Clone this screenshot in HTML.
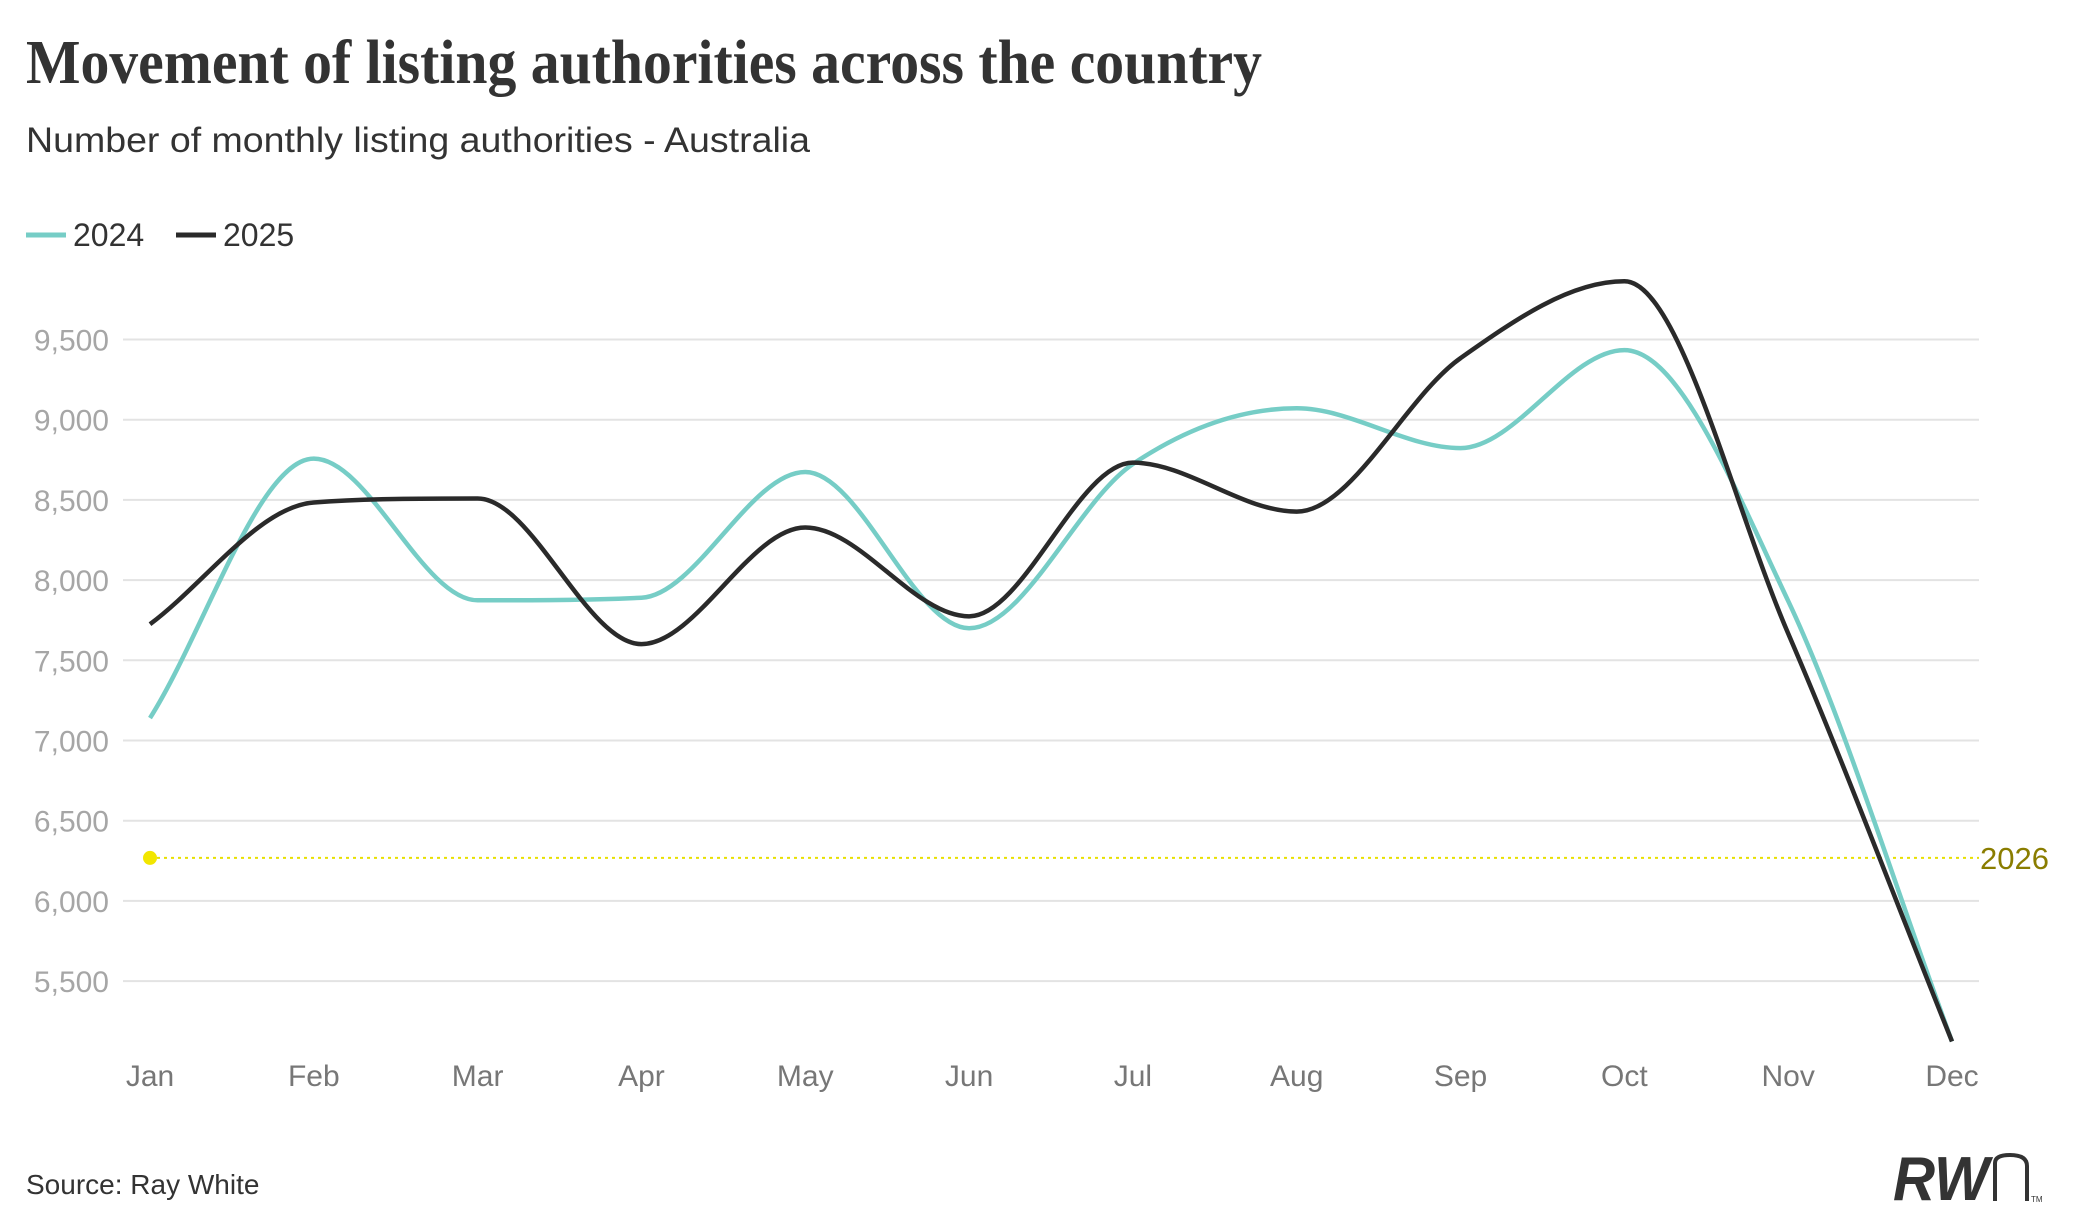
<!DOCTYPE html>
<html><head><meta charset="utf-8"><style>
html,body{margin:0;padding:0;background:#fff;}
body{width:2079px;height:1225px;overflow:hidden;position:relative;font-family:"Liberation Sans",sans-serif;}
</style></head><body>
<svg id="chart" width="2079" height="1225" xmlns="http://www.w3.org/2000/svg">
<text x="26" y="83" font-family="Liberation Serif, serif" font-weight="bold" font-size="62" fill="#333" textLength="1236" lengthAdjust="spacingAndGlyphs">Movement of listing authorities across the country</text>
<text x="26" y="152" font-family="Liberation Sans, sans-serif" font-size="35" fill="#333" textLength="784" lengthAdjust="spacingAndGlyphs">Number of monthly listing authorities - Australia</text>
<g>
<line x1="26" y1="235" x2="66" y2="235" stroke="#76cdc6" stroke-width="5"/>
<text x="73" y="246" font-size="32" fill="#333">2024</text>
<line x1="176" y1="235" x2="216" y2="235" stroke="#2a2a2a" stroke-width="5"/>
<text x="223" y="246" font-size="32" fill="#333">2025</text>
</g>
<g id="grid"></g><g id="ylab"></g><g id="xlab"></g><g id="ref"></g><g id="lines"></g>
<text x="26" y="1194" font-size="28" fill="#333">Source: Ray White</text>
<g>
<text x="1893" y="1200" font-size="62" font-weight="bold" font-style="italic" fill="#333" textLength="96" lengthAdjust="spacingAndGlyphs">RW</text>
<path d="M1995 1201 V1163 Q1995 1155 2010 1155 Q2027 1155 2027 1166 V1201" fill="none" stroke="#333" stroke-width="4"/>
<text x="2031" y="1202" font-size="8" fill="#333">TM</text>
</g>
</svg>
<script>
const months=["Jan","Feb","Mar","Apr","May","Jun","Jul","Aug","Sep","Oct","Nov","Dec"];
const s2024=[7140,8757,7874,7890,8674,7700,8724,9071,8823,9434,7870,5124];
const s2025=[7725,8484,8509,7601,8328,7774,8732,8427,9384,9863,7667,5124];
const yTicks=[5500,6000,6500,7000,7500,8000,8500,9000,9500];
const refValue=6268;
const refLabel="2026";
const NS="http://www.w3.org/2000/svg";
const X0=150,X1=1952,GL=123,GR=1979;
const xs=i=>X0+(X1-X0)*i/(months.length-1);
const ys=v=>339.5+(9500-v)*80.2/500;
function mk(tag,attrs,parent,txt){const e=document.createElementNS(NS,tag);for(const k in attrs)e.setAttribute(k,attrs[k]);if(txt!=null)e.textContent=txt;document.getElementById(parent).appendChild(e);return e;}
yTicks.forEach(t=>{
 const l=mk('line',{x1:GL,x2:GR,y1:ys(t),y2:ys(t),stroke:'#e3e3e3','stroke-width':2},'grid');
 
 
 const tx=mk('text',{x:109,y:ys(t)+11,'text-anchor':'end','font-size':30,fill:'#a6a6a6'},'ylab',t.toLocaleString('en-US'));
 
 
});
months.forEach((m,i)=>{
 const tx=mk('text',{x:xs(i),y:1086,'text-anchor':'middle','font-size':30,fill:'#777'},'xlab',m);
 
 
});
const rl=mk('line',{x1:xs(0),x2:GR,y1:ys(refValue),y2:ys(refValue),stroke:'#e8e000','stroke-width':2,'stroke-dasharray':'3,4'},'ref');


const rc=mk('circle',{cx:xs(0),cy:ys(refValue),r:7,fill:'#f2e600'},'ref');


const rt=mk('text',{x:1980,y:ys(refValue)+11,'font-size':31,fill:'#8a7d00'},'ref',refLabel);


function monotone(px,py){
 const n=px.length,d=[],m=[];
 for(let i=0;i<n-1;i++)d.push((py[i+1]-py[i])/(px[i+1]-px[i]));
 m[0]=d[0];m[n-1]=d[n-2];
 for(let i=1;i<n-1;i++){ if(d[i-1]*d[i]<=0)m[i]=0; else m[i]=(d[i-1]+d[i])/2;
   const a=m[i]/d[i-1],b=m[i]/d[i];const s=a*a+b*b;if(s>9){const t=3/Math.sqrt(s);m[i]=t*(d[i-1]+d[i])/2;}}
 let p=`M${px[0]},${py[0]}`;
 for(let i=0;i<n-1;i++){const h=(px[i+1]-px[i])/3;p+=` C${px[i]+h},${py[i]+m[i]*h} ${px[i+1]-h},${py[i+1]-m[i+1]*h} ${px[i+1]},${py[i+1]}`;}
 return p;
}
[[s2024,'#76cdc6','series-2024'],[s2025,'#2a2a2a','series-2025']].forEach(([s,c,n])=>{
 const p=mk('path',{d:monotone(s.map((v,i)=>xs(i)),s.map(ys)),fill:'none',stroke:c,'stroke-width':4.5},'lines');
 
 
});
</script>
</body></html>
